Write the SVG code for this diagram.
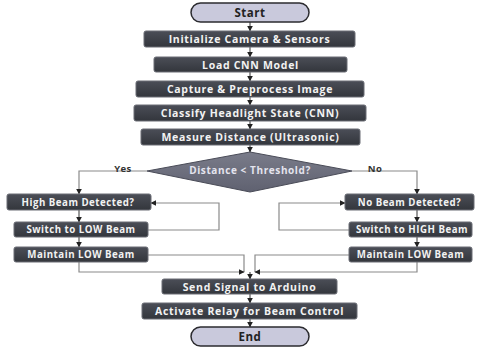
<svg xmlns="http://www.w3.org/2000/svg" width="483" height="354" viewBox="0 0 483 354">
<defs>
<linearGradient id="bx" x1="0" y1="0" x2="0" y2="1">
<stop offset="0" stop-color="#4b4e57"/>
<stop offset="1" stop-color="#33363c"/>
</linearGradient>
<linearGradient id="dm" x1="0" y1="0" x2="0" y2="1">
<stop offset="0" stop-color="#7a7c8a"/>
<stop offset="1" stop-color="#5f6170"/>
</linearGradient>
<marker id="ah" viewBox="0 0 10 10" refX="9" refY="5" markerWidth="6" markerHeight="6" orient="auto" markerUnits="userSpaceOnUse">
<path d="M0,0 L10,5 L0,10 Z" fill="#222"/>
</marker>
</defs>
<style>
.box{fill:url(#bx);stroke:#6a6d75;stroke-width:1}
.pill{fill:#c9c9dc;stroke:#2b2b2f;stroke-width:1.5}
.t{font-family:"Open Sans","Liberation Sans",sans-serif;font-weight:bold;font-size:10.5px;letter-spacing:0.7px;fill:#f2f2f2;text-anchor:middle;dominant-baseline:central}
.s{font-family:"Open Sans","Liberation Sans",sans-serif;font-weight:bold;font-size:9.7px;letter-spacing:0.5px;fill:#f2f2f2;text-anchor:middle;dominant-baseline:central}
.dt{font-family:"Open Sans","Liberation Sans",sans-serif;font-weight:bold;font-size:10px;letter-spacing:0.6px;fill:#e4e4ee;text-anchor:middle;dominant-baseline:central}
.pt{font-family:"Open Sans","Liberation Sans",sans-serif;font-weight:bold;font-size:11.5px;letter-spacing:0.5px;fill:#222;text-anchor:middle;dominant-baseline:central}
.lbl{font-family:"Open Sans","Liberation Sans",sans-serif;font-weight:bold;font-size:9.5px;letter-spacing:0.4px;fill:#333;text-anchor:middle;dominant-baseline:central}
.c{fill:none;stroke:#555;stroke-width:1.2}
.l{fill:none;stroke:#8a8a8a;stroke-width:1.2}
</style>
<g id="connectors">
<path class="c" d="M250,22 V31" marker-end="url(#ah)"/>
<path class="c" d="M250,47 V57" marker-end="url(#ah)"/>
<path class="c" d="M250,72 V81" marker-end="url(#ah)"/>
<path class="c" d="M250,97 V105" marker-end="url(#ah)"/>
<path class="c" d="M250,121 V129" marker-end="url(#ah)"/>
<path class="c" d="M250,145 V152" marker-end="url(#ah)"/>
<path class="l" d="M147,171 H79 V194" marker-end="url(#ah)"/>
<path class="l" d="M352,171 H417 V194" marker-end="url(#ah)"/>
<path class="c" d="M79,210 V222" marker-end="url(#ah)"/>
<path class="c" d="M79,237 V247" marker-end="url(#ah)"/>
<path class="c" d="M417,210 V222" marker-end="url(#ah)"/>
<path class="c" d="M417,237 V247" marker-end="url(#ah)"/>
<path class="l" d="M148,230 H219 V203 H151" marker-end="url(#ah)"/>
<path class="l" d="M349,230 H279 V203 H345" marker-end="url(#ah)"/>
<path class="l" d="M148,255 H244 V272"/>
<path class="l" d="M79,262 V272 H244" marker-end="url(#ah)"/>
<path class="l" d="M349,255 H255 V272"/>
<path class="l" d="M417,262 V272 H255" marker-end="url(#ah)"/>
<path class="c" d="M250,272 V279" marker-end="url(#ah)"/>
<path class="c" d="M250,294 V303" marker-end="url(#ah)"/>
<path class="c" d="M250,319 V327" marker-end="url(#ah)"/>
<text class="lbl" x="123" y="168">Yes</text>
<text class="lbl" x="375" y="168">No</text>
</g>
<g id="start"><rect class="pill" x="191" y="3" width="118" height="19" rx="9.5"/><text class="pt" x="250" y="12.5">Start</text></g>
<g id="init"><rect class="box" x="144" y="31" width="211" height="16" rx="2"/><text class="t" x="249.5" y="39">Initialize Camera &amp; Sensors</text></g>
<g id="load"><rect class="box" x="154" y="57" width="193" height="15" rx="2"/><text class="t" x="250.5" y="64.5">Load CNN Model</text></g>
<g id="capture"><rect class="box" x="136" y="81" width="228" height="16" rx="2"/><text class="t" x="250" y="89">Capture &amp; Preprocess Image</text></g>
<g id="classify"><rect class="box" x="134" y="105" width="232" height="16" rx="2"/><text class="t" x="250" y="113">Classify Headlight State (CNN)</text></g>
<g id="measure"><rect class="box" x="141" y="129" width="219" height="16" rx="2"/><text class="t" x="250.5" y="137">Measure Distance (Ultrasonic)</text></g>
<g id="decision"><polygon points="250,152 352,171 250,192 147,171" fill="url(#dm)" stroke="#4a4c58" stroke-width="1"/><text class="dt" x="250" y="170">Distance &lt; Threshold?</text></g>
<g id="highbeam"><rect class="box" x="7" y="194" width="144" height="16" rx="2"/><text class="s" x="78" y="202">High Beam Detected?</text></g>
<g id="nobeam"><rect class="box" x="345" y="194" width="129" height="16" rx="2"/><text class="s" x="409.5" y="202">No Beam Detected?</text></g>
<g id="switchlow"><rect class="box" x="14" y="222" width="134" height="15" rx="2"/><text class="s" x="81" y="229.5">Switch to LOW Beam</text></g>
<g id="switchhigh"><rect class="box" x="349" y="222" width="123" height="15" rx="2"/><text class="s" x="412" y="229.5">Switch to HIGH Beam</text></g>
<g id="maintainleft"><rect class="box" x="14" y="247" width="134" height="15" rx="2"/><text class="s" x="81" y="254.5">Maintain LOW Beam</text></g>
<g id="maintainright"><rect class="box" x="349" y="247" width="123" height="15" rx="2"/><text class="s" x="410.5" y="254.5">Maintain LOW Beam</text></g>
<g id="send"><rect class="box" x="162" y="279" width="175" height="15" rx="2"/><text class="t" x="249.5" y="286.5">Send Signal to Arduino</text></g>
<g id="relay"><rect class="box" x="142" y="303" width="215" height="16" rx="2"/><text class="t" x="249.5" y="311">Activate Relay for Beam Control</text></g>
<g id="end"><rect class="pill" x="191" y="327" width="118" height="19" rx="9.5"/><text class="pt" x="250" y="336.5">End</text></g>
</svg>
